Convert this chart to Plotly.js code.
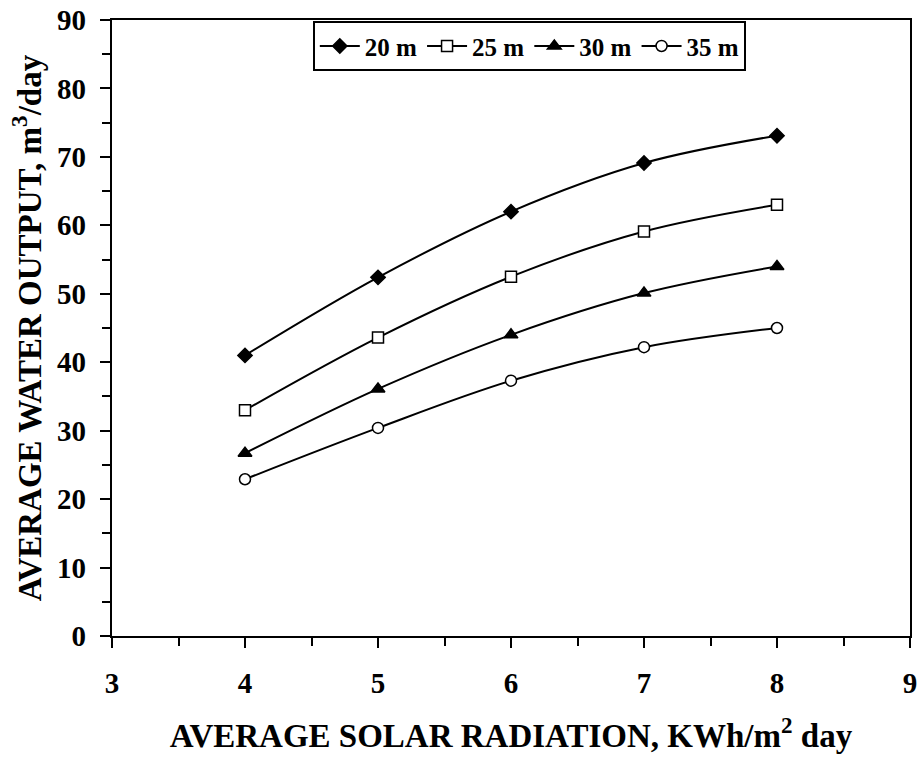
<!DOCTYPE html>
<html><head><meta charset="utf-8">
<script src="https://cdn.plot.ly/plotly-3.0.1.min.js"></script>
<style>html,body{margin:0;padding:0;background:#fff}#chart{width:923px;height:761px}</style>
</head><body><div id="chart"></div>
<script>
const radiation = [4, 5, 6, 7, 8];
const head20 = [41.0, 52.4, 62.0, 69.1, 73.1];
const head25 = [33.0, 43.6, 52.5, 59.1, 63.0];
const head30 = [26.7, 36.1, 44.0, 50.1, 54.0];
const head35 = [22.9, 30.4, 37.3, 42.2, 45.0];
const names = ['20 m', '25 m', '30 m', '35 m'];
const symbols = ['diamond', 'square', 'triangle-up', 'circle'];
const fills = ['#000', '#fff', '#000', '#fff'];
const sizes = [11, 11, 12, 11];
const series = [head20, head25, head30, head35];

const traces = series.map((ys, i) => ({
  x: radiation, y: ys, name: names[i], type: 'scatter', mode: 'lines+markers',
  line: {shape: 'spline', color: '#000', width: 2},
  marker: {symbol: symbols[i], size: sizes[i], color: fills[i], line: {color: '#000', width: 1.5}}
}));
// invisible helper trace so the label-only y axis is drawn
traces.push({x: radiation, y: head20, yaxis: 'y2', type: 'scatter', mode: 'markers',
             marker: {opacity: 0}, showlegend: false, hoverinfo: 'skip'});

const fam = '"Liberation Serif", "Times New Roman", serif';
const W = 923, ML = 86, MR = 13, PLOT_LEFT = 112;
const xStart = (PLOT_LEFT - ML) / (W - ML - MR);
const layout = {
  width: W, height: 761,
  margin: {l: ML, r: MR, t: 20, b: 125},
  paper_bgcolor: '#fff', plot_bgcolor: '#fff',
  font: {family: fam, color: '#000'},
  showlegend: true,
  legend: {orientation: 'h', x: 0.538, xanchor: 'center', y: 0.998, yanchor: 'top',
           bordercolor: '#000', borderwidth: 2, bgcolor: '#fff',
           font: {family: fam, size: 25, color: '#000', weight: 'bold'},
           itemwidth: 40, tracegroupgap: 0},
  xaxis: {domain: [xStart, 1], range: [3, 9], dtick: 1, ticks: 'outside', ticklen: 10, tickwidth: 2, tickcolor: '#000',
          ticklabelstandoff: 10,
          minor: {dtick: 0.5, ticks: 'outside', ticklen: 8, tickwidth: 2, tickcolor: '#000'},
          showgrid: false, zeroline: false, showline: true, linecolor: '#000', linewidth: 2, mirror: true,
          tickfont: {family: fam, size: 29, color: '#000', weight: 'bold'},
          title: {text: 'AVERAGE SOLAR RADIATION, KWh/m<sup>2</sup> day', standoff: 26,
                  font: {family: fam, size: 33, color: '#000', weight: 'bold'}}},
  yaxis: {range: [0, 90], dtick: 10, ticks: 'outside', ticklen: 10, tickwidth: 2, tickcolor: '#000',
          showticklabels: false,
          minor: {dtick: 5, ticks: 'outside', ticklen: 8, tickwidth: 2, tickcolor: '#000'},
          showgrid: false, zeroline: false, showline: true, linecolor: '#000', linewidth: 2, mirror: true},
  yaxis2: {overlaying: 'y', anchor: 'free', position: 0, side: 'left', range: [0, 90], dtick: 10,
           ticks: '', showline: false, showgrid: false, zeroline: false,
           tickfont: {family: fam, size: 29, color: '#000', weight: 'bold'},
           title: {text: 'AVERAGE WATER OUTPUT, m<sup>3</sup>/day', standoff: 4,
                   font: {family: fam, size: 33, color: '#000', weight: 'bold'}}}
};
Plotly.newPlot('chart', traces, layout, {displayModeBar: false, staticPlot: true});
</script></body></html>
